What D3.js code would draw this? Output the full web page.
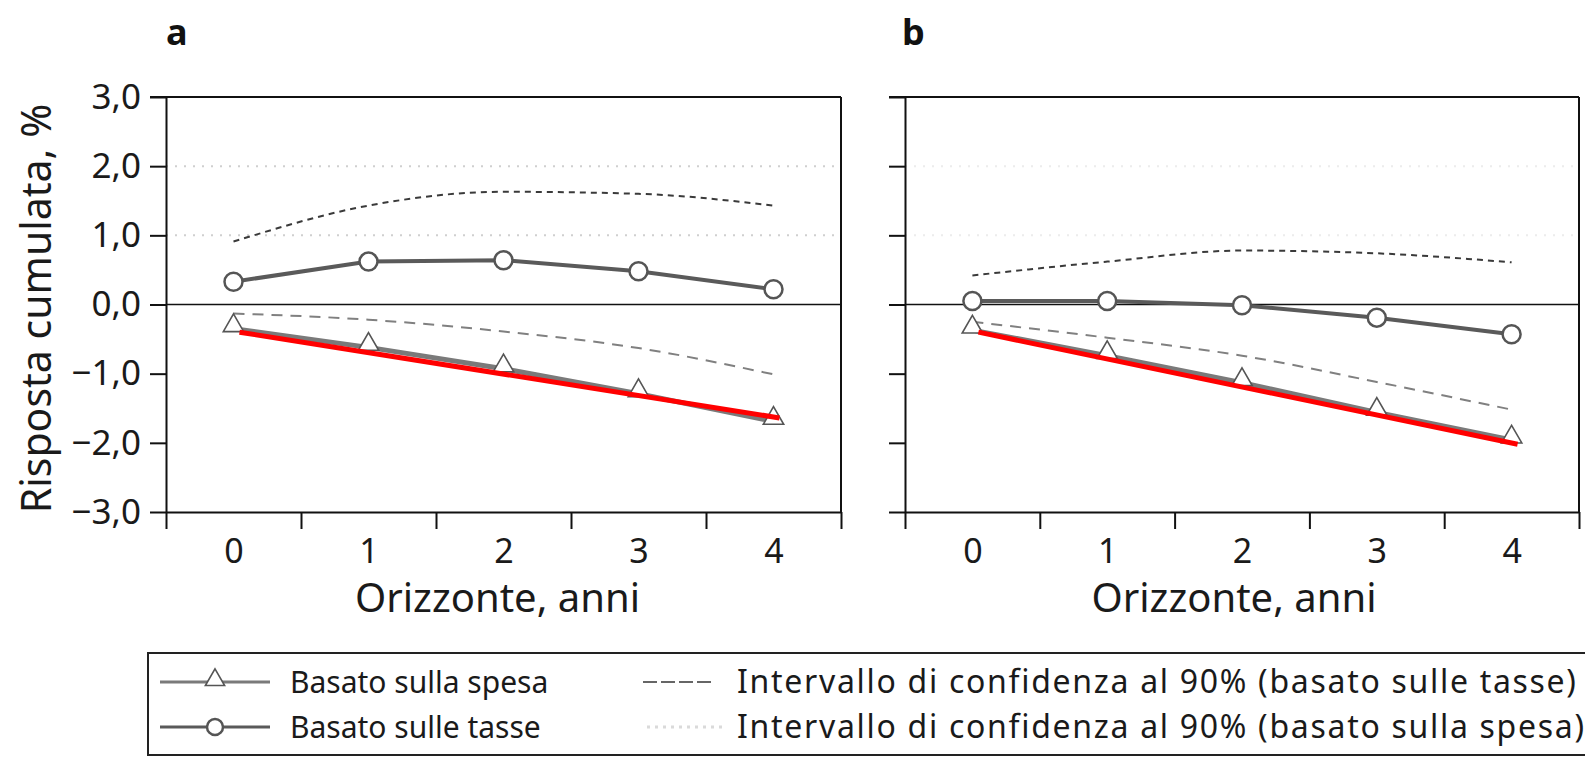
<!DOCTYPE html>
<html>
<head>
<meta charset="utf-8">
<script src="https://cdn.jsdelivr.net/npm/d3@7"></script>
<style>
  html, body { margin: 0; padding: 0; background: #fff; }
  svg { display: block; font-family: "Noto Sans", "Open Sans", sans-serif; }
</style>
</head>
<body>
<svg id="chart" width="1585" height="757"></svg>
<script>
// ---- data ----
const years = [0, 1, 2, 3, 4];
const yTicks = [3, 2, 1, 0, -1, -2, -3];
const yTickLabels = ["3,0", "2,0", "1,0", "0,0", "\u22121,0", "\u22122,0", "\u22123,0"];
const gridValues = [2, 1];

// panel a
const spendA    = [-0.35, -0.62, -0.93, -1.29, -1.69];
const taxA      = [0.33, 0.62, 0.64, 0.48, 0.22];
const taxUpperA = [0.91, 1.43, 1.63, 1.60, 1.43];
const taxLowerA = [-0.13, -0.22, -0.39, -0.63, -1.01];
const redYearsA = [0, 4];
const redA      = [-0.40, -1.64];

// panel b
const spendB    = [-0.37, -0.74, -1.13, -1.56, -1.96];
const taxB      = [0.05, 0.05, -0.01, -0.19, -0.43];
const taxUpperB = [0.42, 0.62, 0.78, 0.74, 0.61];
const taxLowerB = [-0.25, -0.48, -0.74, -1.12, -1.52];
const redYearsB = [0, 4];
const redB      = [-0.40, -2.02];

const panelLabels = ["a", "b"];
const xTitle = "Orizzonte, anni";
const yTitle = "Risposta cumulata, %";
const legendLabels = [
  "Basato sulla spesa",
  "Basato sulle tasse",
  "Intervallo di confidenza al 90% (basato sulle tasse)",
  "Intervallo di confidenza al 90% (basato sulla spesa)"
];

// ---- drawing ----
const svg = d3.select("#chart");
const y = d3.scaleLinear().domain([-3, 3]).range([512, 97]);

const panels = [
  { label: panelLabels[0], range: [166, 841], spend: spendA, tax: taxA, up: taxUpperA, lo: taxLowerA,
    redX: redYearsA, red: redA, showY: true, gridColor: "#cfcfcf", titleShift: -6 },
  { label: panelLabels[1], range: [905, 1579], spend: spendB, tax: taxB, up: taxUpperB, lo: taxLowerB,
    redX: redYearsB, red: redB, showY: false, gridColor: "#ececec", titleShift: -8 }
];

const TICK = 16;

panels.forEach((p) => {
  const x = d3.scaleLinear().domain([-0.5, 4.5]).range(p.range);
  const g = svg.append("g");

  // faint gridlines
  g.selectAll("line.grid").data(gridValues).join("line")
    .attr("x1", x(-0.5)).attr("x2", x(4.5))
    .attr("y1", d => y(d)).attr("y2", d => y(d))
    .attr("stroke", p.gridColor).attr("stroke-width", 2)
    .attr("stroke-dasharray", "2,7");

  // left axis
  const yAxis = d3.axisLeft(y).tickValues(yTicks).tickSize(TICK).tickSizeOuter(0).tickPadding(9)
    .tickFormat((d, i) => p.showY ? yTickLabels[i] : "");
  const ya = g.append("g").attr("transform", `translate(${x(-0.5)},0)`).call(yAxis);
  ya.selectAll("line").attr("stroke", "#111").attr("stroke-width", 2);
  ya.select(".domain").attr("stroke", "#111").attr("stroke-width", 2);
  ya.selectAll("text").attr("font-size", 35).attr("fill", "#1a1a1a")
    .attr("font-family", "'Noto Sans', sans-serif");

  // bottom axis: ticks at band edges
  const xEdges = d3.axisBottom(x).tickValues([-0.5, 0.5, 1.5, 2.5, 3.5, 4.5])
    .tickSize(TICK + 1).tickSizeOuter(0).tickFormat("");
  const xa = g.append("g").attr("transform", `translate(0,${y(-3)})`).call(xEdges);
  xa.selectAll("line").attr("stroke", "#111").attr("stroke-width", 2);
  xa.select(".domain").attr("stroke", "#111").attr("stroke-width", 2);

  // bottom axis labels at integer years
  const xLab = d3.axisBottom(x).tickValues(years).tickSize(0).tickPadding(27).tickFormat(d3.format("d"));
  const xl = g.append("g").attr("transform", `translate(0,${y(-3)})`).call(xLab);
  xl.select(".domain").remove();
  xl.selectAll("text").attr("font-size", 34).attr("fill", "#1a1a1a")
    .attr("font-family", "'Noto Sans', sans-serif");

  // frame: top and right
  g.append("line").attr("x1", x(-0.5) - TICK).attr("x2", x(4.5)).attr("y1", y(3)).attr("y2", y(3))
    .attr("stroke", "#111").attr("stroke-width", 2);
  g.append("line").attr("x1", x(4.5)).attr("x2", x(4.5)).attr("y1", y(3)).attr("y2", y(-3))
    .attr("stroke", "#111").attr("stroke-width", 2);
  // zero line
  g.append("line").attr("x1", x(-0.5)).attr("x2", x(4.5)).attr("y1", y(0)).attr("y2", y(0))
    .attr("stroke", "#111").attr("stroke-width", 1.6);

  // CI lines
  const ciLine = d3.line().x((d, i) => x(years[i])).y(d => y(d)).curve(d3.curveMonotoneX);
  g.append("path").attr("d", ciLine(p.up)).attr("fill", "none")
    .attr("stroke", "#3a3a3a").attr("stroke-width", 2).attr("stroke-dasharray", "6,5");
  g.append("path").attr("d", ciLine(p.lo)).attr("fill", "none")
    .attr("stroke", "#808080").attr("stroke-width", 2).attr("stroke-dasharray", "11,8");

  // series lines
  const line = d3.line().x((d, i) => x(years[i])).y(d => y(d));
  g.append("path").attr("d", line(p.spend)).attr("fill", "none")
    .attr("stroke", "#7a7a7a").attr("stroke-width", 5);
  g.append("path").attr("d", line(p.tax)).attr("fill", "none")
    .attr("stroke", "#5a5a5a").attr("stroke-width", 4);

  // triangle markers
  const tri = d3.symbol().type(d3.symbolTriangle).size(180);
  g.selectAll("path.tri").data(p.spend).join("path")
    .attr("d", tri)
    .attr("transform", (d, i) => `translate(${x(years[i])},${y(d) - 3})`)
    .attr("fill", "#fff").attr("stroke", "#555").attr("stroke-width", 1.6);

  // circle markers
  g.selectAll("circle.tax").data(p.tax).join("circle")
    .attr("cx", (d, i) => x(years[i])).attr("cy", d => y(d)).attr("r", 9)
    .attr("fill", "#fff").attr("stroke", "#555").attr("stroke-width", 2.5);

  // red straight line
  const redLine = d3.line().x((d, i) => x(p.redX[i]) + 6).y(d => y(d));
  g.append("path").attr("d", redLine(p.red)).attr("fill", "none")
    .attr("stroke", "#ff0000").attr("stroke-width", 5);

  // panel label
  g.append("text").attr("x", x(-0.5) + (p.showY ? 0 : -3)).attr("y", 45)
    .attr("font-size", 36).attr("font-weight", "bold").attr("fill", "#111")
    .attr("font-family", "'Noto Sans', sans-serif").text(p.label);

  // x title
  g.append("text").attr("x", (x(-0.5) + x(4.5)) / 2 + p.titleShift).attr("y", 612)
    .attr("text-anchor", "middle").attr("font-size", 40).attr("fill", "#1a1a1a")
    .attr("font-family", "'Noto Sans', sans-serif").text(xTitle);
});

// y title
svg.append("text")
  .attr("transform", `translate(51,${(y(3) + y(-3)) / 2 + 4}) rotate(-90)`)
  .attr("text-anchor", "middle").attr("font-size", 41).attr("fill", "#1a1a1a")
  .attr("font-family", "'Noto Sans', sans-serif").text(yTitle);

// ---- legend ----
const lg = svg.append("g");
lg.append("rect").attr("x", 148).attr("y", 653).attr("width", 1460).attr("height", 102)
  .attr("fill", "none").attr("stroke", "#222").attr("stroke-width", 2);

const rowY = [682, 727];
// spending
lg.append("line").attr("x1", 160).attr("x2", 270).attr("y1", rowY[0]).attr("y2", rowY[0])
  .attr("stroke", "#7a7a7a").attr("stroke-width", 3);
lg.append("path").attr("d", d3.symbol().type(d3.symbolTriangle).size(160)())
  .attr("transform", `translate(215,${rowY[0] - 2})`)
  .attr("fill", "#fff").attr("stroke", "#555").attr("stroke-width", 1.6);
// tax
lg.append("line").attr("x1", 160).attr("x2", 270).attr("y1", rowY[1]).attr("y2", rowY[1])
  .attr("stroke", "#5a5a5a").attr("stroke-width", 3);
lg.append("circle").attr("cx", 215).attr("cy", rowY[1]).attr("r", 8)
  .attr("fill", "#fff").attr("stroke", "#555").attr("stroke-width", 2.5);
// CI tax
lg.append("line").attr("x1", 643).attr("x2", 715).attr("y1", rowY[0]).attr("y2", rowY[0])
  .attr("stroke", "#666").attr("stroke-width", 2).attr("stroke-dasharray", "14,4");
// CI spending (faint)
lg.append("line").attr("x1", 647).attr("x2", 723).attr("y1", rowY[1]).attr("y2", rowY[1])
  .attr("stroke", "#dadada").attr("stroke-width", 3).attr("stroke-dasharray", "3,5");

const legendPos = [[290, 693], [290, 738], [737, 693], [737, 738]];
const legendSpacing = [0, 0, 1.7, 1.7];
lg.selectAll("text.leg").data(legendLabels).join("text")
  .attr("x", (d, i) => legendPos[i][0]).attr("y", (d, i) => legendPos[i][1])
  .attr("font-size", (d, i) => i < 2 ? 30 : 32)
  .attr("letter-spacing", (d, i) => legendSpacing[i])
  .attr("fill", "#1a1a1a")
  .attr("font-family", "'Noto Sans', sans-serif")
  .text(d => d);
</script>
</body>
</html>
